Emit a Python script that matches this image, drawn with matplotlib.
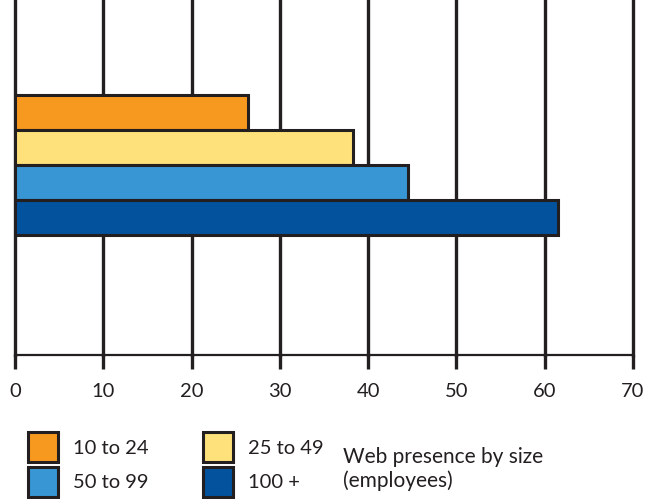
import matplotlib
matplotlib.use("Agg")
from matplotlib import pyplot as plt
from matplotlib.patches import Rectangle

# Web presence by size (employees), percent
groups = ["10 to 24", "25 to 49", "50 to 99", "100 +"]
values = [26.4, 38.3, 44.5, 61.5]
colors = ["#F7991E", "#FEE17A", "#3796D3", "#02529E"]
ticks = [0, 10, 20, 30, 40, 50, 60, 70]

edge = "#231F20"
plt.rcParams['font.family'] = ['Lato', 'DejaVu Sans']

W, H = 650, 499
fig = plt.figure(figsize=(W / 100, H / 100), dpi=100)
# axes in pixel coordinates: x 15..633, y 0..355 from top
ax = fig.add_axes([15 / W, 1 - 355 / H, (633 - 15) / W, 355 / H])

# bars, top to bottom
ypos = [3 - i for i in range(len(groups))]
ax.barh(ypos, values, height=1.0, color=colors, edgecolor=edge, linewidth=2.2, zorder=3)

ax.set_xlim(0, 70)
ax.set_ylim(-3.93, 6.21)
ax.set_xticks(ticks)
ax.set_xticklabels([str(t) for t in ticks], fontsize=14.5, color="#231F20")
ax.set_yticks([])
ax.grid(axis="x", color=edge, linewidth=2.4, zorder=1)
for gl in ax.get_xgridlines():
    gl.set_clip_on(False)
ax.tick_params(axis="x", length=10, width=2.4, color=edge, pad=10)
for s in ["top", "right", "left"]:
    ax.spines[s].set_visible(False)
ax.spines["bottom"].set_color(edge)
ax.spines["bottom"].set_linewidth(1.6)

# legend built by hand in pixel positions
def px(x, y):
    return x / W, 1 - y / H

legend_pos = [(28, 432), (203, 432), (28, 467), (203, 467)]
for (lx, ly), i in zip(legend_pos, range(len(groups))):
    x0, y0 = px(lx, ly + 30)
    fig.add_artist(Rectangle((x0, y0), 30 / W, 30 / H, facecolor=colors[i],
                             edgecolor=edge, linewidth=2.2, transform=fig.transFigure))
    tx, ty = px(lx + 45, ly + 16)
    fig.text(tx, ty, groups[i], fontsize=14.5, color="#231F20", va="center", ha="left")

tx, ty = px(343, 457)
fig.text(tx, ty, "Web presence by size", fontsize=15, color="#231F20", va="center")
tx, ty = px(343, 481)
fig.text(tx, ty, "(employees)", fontsize=15, color="#231F20", va="center")

fig.savefig("out.png", dpi=100)
